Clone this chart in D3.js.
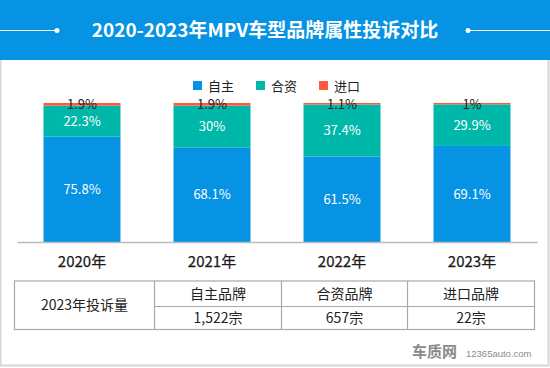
<!DOCTYPE html>
<html>
<head>
<meta charset="utf-8">
<script src="https://cdn.jsdelivr.net/npm/d3@7"></script>
<style>
  body { margin: 0; background: #fff; }
  svg { display: block; font-family: "Noto Sans CJK SC", "Noto Sans", sans-serif; }
</style>
</head>
<body>
<script>
var years = ["2020年", "2021年", "2022年", "2023年"];
var seriesNames = ["自主", "合资", "进口"];
var ownBrand = [75.8, 68.1, 61.5, 69.1];
var jointBrand = [22.3, 30, 37.4, 29.9];
var importBrand = [1.9, 1.9, 1.1, 1];
var colors = ["#0693e3", "#00b8a9", "#ff5a3c"];

var tableHead = ["自主品牌", "合资品牌", "进口品牌"];
var tableValues = ["1,522宗", "657宗", "22宗"];
var tableTitle = "2023年投诉量";

var w = 550, h = 368;

var svg = d3.select("body").append("svg")
    .attr("width", w)
    .attr("height", h);

// panel border
svg.append("rect")
    .attr("x", 0.5).attr("y", 0.5)
    .attr("width", w - 2).attr("height", h - 3)
    .attr("fill", "#fff")
    .attr("stroke", "#d6d6d6")
    .attr("stroke-width", 2);

// header band
svg.append("rect")
    .attr("x", 0).attr("y", 0)
    .attr("width", w).attr("height", 60)
    .attr("fill", "#0693e3");

svg.append("line").attr("x1", 0).attr("x2", 57).attr("y1", 30.5).attr("y2", 30.5)
    .attr("stroke", "#fff").attr("stroke-width", 1);
svg.append("circle").attr("cx", 57).attr("cy", 30.5).attr("r", 2.5).attr("fill", "#fff");
svg.append("line").attr("x1", 468).attr("x2", w).attr("y1", 30.5).attr("y2", 30.5)
    .attr("stroke", "#fff").attr("stroke-width", 1);
svg.append("circle").attr("cx", 468).attr("cy", 30.5).attr("r", 2.5).attr("fill", "#fff");

svg.append("text")
    .attr("x", 265).attr("y", 37)
    .attr("text-anchor", "middle")
    .attr("fill", "#fff")
    .attr("font-size", 19)
    .attr("font-weight", "bold")
    .text("2020-2023年MPV车型品牌属性投诉对比");

// legend
var legendX = [193, 256, 319];
var legend = svg.append("g").selectAll("g")
    .data(seriesNames)
    .enter().append("g")
    .attr("transform", function(d, i){ return "translate(" + legendX[i] + ",81)"; });
legend.append("rect").attr("width", 9).attr("height", 9)
    .attr("fill", function(d, i){ return colors[i]; });
legend.append("text").attr("x", 15).attr("y", 9.5)
    .attr("font-size", 13).attr("fill", "#222")
    .text(function(d){ return d; });

// data table for stacking
var table = years.map(function(y, i){
    return {year: y, "自主": ownBrand[i], "合资": jointBrand[i], "进口": importBrand[i]};
});
var stacked = d3.stack().keys(seriesNames)(table);

var x = d3.scaleBand()
    .domain(years)
    .range([17, 537])
    .paddingInner(0.408)
    .paddingOuter(0.204);

var y = d3.scaleLinear()
    .domain([0, 100])
    .range([242, 103]);

var layers = svg.append("g").selectAll("g")
    .data(stacked)
    .enter().append("g")
    .attr("fill", function(d, i){ return colors[i]; });

layers.selectAll("rect")
    .data(function(d){ return d; })
    .enter().append("rect")
    .attr("x", function(d){ return x(d.data.year); })
    .attr("y", function(d){ return y(d[1]); })
    .attr("width", x.bandwidth())
    .attr("height", function(d){ return y(d[0]) - y(d[1]); });

// labels
stacked.forEach(function(layer, li){
    svg.append("g").selectAll("text")
        .data(layer)
        .enter().append("text")
        .attr("x", function(d){ return x(d.data.year) + x.bandwidth() / 2; })
        .attr("y", function(d){
            if (li == 2) return y(d[1]) + 1;
            return (y(d[0]) + y(d[1])) / 2;
        })
        .attr("dy", "0.35em")
        .attr("text-anchor", "middle")
        .attr("font-size", 13)
        .attr("fill", li == 2 ? "#222" : "#fff")
        .text(function(d){ return (d[1] - d[0]).toFixed(1).replace(/\.0$/, "") + "%"; });
});

// axis
var axis = svg.append("g")
    .attr("transform", "translate(0,242)")
    .call(d3.axisBottom(x).tickSize(0).tickPadding(14));
axis.select(".domain").attr("stroke", "#bbb").attr("stroke-width", 1.5);
axis.selectAll("text")
    .attr("font-size", 15)
    .attr("fill", "#1a1a1a")
    .attr("stroke", "#1a1a1a")
    .attr("stroke-width", 0.25)
    .attr("font-family", "\"Noto Sans CJK SC\", sans-serif");

// bottom table
var colX = [14.5, 154.5, 281.5, 407.5, 534.5];
var rowY = [281, 306.5, 329.5];
var tg = svg.append("g").attr("stroke", "#a8a8a8").attr("stroke-width", 1.2);
tg.append("rect").attr("x", colX[0]).attr("y", rowY[0])
    .attr("width", colX[4] - colX[0]).attr("height", rowY[2] - rowY[0])
    .attr("fill", "none");
[1, 2, 3].forEach(function(c){
    tg.append("line").attr("x1", colX[c]).attr("x2", colX[c]).attr("y1", rowY[0]).attr("y2", rowY[2]);
});
tg.append("line").attr("x1", colX[1]).attr("x2", colX[4]).attr("y1", rowY[1]).attr("y2", rowY[1]);

svg.append("text")
    .attr("x", (colX[0] + colX[1]) / 2).attr("y", (rowY[0] + rowY[2]) / 2)
    .attr("dy", "0.35em").attr("text-anchor", "middle")
    .attr("font-size", 14).attr("fill", "#222")
    .text(tableTitle);

svg.append("g").selectAll("text")
    .data(tableHead)
    .enter().append("text")
    .attr("x", function(d, i){ return (colX[i + 1] + colX[i + 2]) / 2; })
    .attr("y", (rowY[0] + rowY[1]) / 2)
    .attr("dy", "0.35em").attr("text-anchor", "middle")
    .attr("font-size", 14).attr("fill", "#222")
    .text(function(d){ return d; });

svg.append("g").selectAll("text")
    .data(tableValues)
    .enter().append("text")
    .attr("x", function(d, i){ return (colX[i + 1] + colX[i + 2]) / 2; })
    .attr("y", (rowY[1] + rowY[2]) / 2)
    .attr("dy", "0.35em").attr("text-anchor", "middle")
    .attr("font-size", 14).attr("fill", "#222")
    .text(function(d){ return d; });

// watermark
svg.append("text")
    .attr("x", 412).attr("y", 357)
    .attr("font-size", 15).attr("font-weight", "bold")
    .attr("fill", "#8a8a8a")
    .text("车质网");
svg.append("text")
    .attr("x", 466).attr("y", 357)
    .attr("font-size", 9.5)
    .attr("fill", "#8a8a8a")
    .attr("font-family", "Arial, \"Liberation Sans\", sans-serif")
    .text("12365auto.com");
</script>
</body>
</html>
